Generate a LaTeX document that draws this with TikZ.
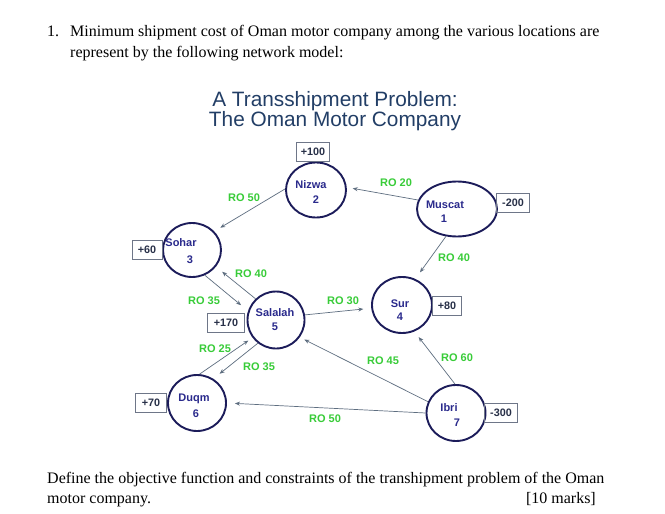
\documentclass[tikz,border=0pt]{standalone}
\usepackage{fontspec}
\setmainfont{Liberation Serif}
\newfontfamily\arialfont{Liberation Sans}
\usetikzlibrary{shapes.geometric,arrows.meta}
\definecolor{navy}{HTML}{1C1C5A}
\definecolor{nodetext}{HTML}{2A2A8C}
\definecolor{edgegreen}{HTML}{38CC38}
\definecolor{edgegray}{HTML}{5E6E80}
\definecolor{boxgray}{HTML}{6E7688}
\definecolor{boxtext}{HTML}{283048}
\definecolor{titleblue}{HTML}{223E66}
\tikzset{
  city/.style={ellipse,draw=navy,line width=1.9pt,inner sep=0pt},
  cname/.style={font=\arialfont\fontsize{11}{12}\selectfont\bfseries,text=nodetext,inner sep=0pt},
  supply/.style={draw=boxgray,line width=0.8pt,font=\arialfont\fontsize{10.8}{12}\selectfont\bfseries,text=boxtext,minimum width=33pt,minimum height=19pt,inner sep=1pt},
  cost/.style={font=\arialfont\fontsize{11}{12}\selectfont\bfseries,text=edgegreen,inner sep=0pt},
  flow/.style={draw=edgegray,line width=0.7pt,-{Stealth[length=5pt,width=4pt]}},
  body/.style={font=\fontsize{16}{19}\selectfont,inner sep=0pt,anchor=base west}
}
\begin{document}
\begin{tikzpicture}[x=1pt,y=-1pt]
\useasboundingbox[fill=white] (0,0) rectangle (665,514);
% question text
\node[body] (q1n) at (47,36.5) {1.};
\node[body] (q1a) at (70,36.5) {Minimum shipment cost of Oman motor company among the various locations are};
\node[body] (q1b) at (70,57) {represent by the following network model:};
\node[body] (q2a) at (47,483) {Define the objective function and constraints of the transhipment problem of the Oman};
\node[body] (q2b) at (47,503) {motor company.};
\node[body,anchor=base east] (q2c) at (596,503) {[10 marks]};
% title
\node[font=\arialfont\fontsize{20.8}{17}\selectfont,text=titleblue,align=center,inner sep=0pt] (title) at (335,111) {A Transshipment Problem:\\The Oman Motor Company};
% cities
\node[city,minimum width=80pt,minimum height=55pt] (muscat) at (457,209) {};
\node[city,minimum width=60pt,minimum height=55pt] (nizwa) at (316,190) {};
\node[city,minimum width=58pt,minimum height=54pt] (sohar) at (192,250) {};
\node[city,minimum width=60pt,minimum height=56pt] (sur) at (402,305) {};
\node[city,minimum width=57pt,minimum height=57pt] (salalah) at (276,320) {};
\node[city,minimum width=58pt,minimum height=56pt] (duqm) at (197,403) {};
\node[city,minimum width=59pt,minimum height=56pt] (ibri) at (456,413) {};
% city labels
\node[cname] (lmus) at (445,205) {Muscat};
\node[cname] (nmus) at (444,219) {1};
\node[cname] (lniz) at (311,185) {Nizwa};
\node[cname] (nniz) at (316,200) {2};
\node[cname] (lsoh) at (181,243) {Sohar};
\node[cname] (nsoh) at (190,260) {3};
\node[cname] (lsur) at (400,304) {Sur};
\node[cname] (nsur) at (400,317) {4};
\node[cname] (lsal) at (275,313) {Salalah};
\node[cname] (nsal) at (275,327) {5};
\node[cname] (lduq) at (194,399) {Duqm};
\node[cname] (nduq) at (196,414) {6};
\node[cname] (libr) at (449,408) {Ibri};
\node[cname] (nibr) at (457,423) {7};
% supplies
\node[supply] (smus) at (513,203) {-200};
\node[supply] (sniz) at (313,152) {+100};
\node[supply,minimum width=30pt] (ssoh) at (147,250) {+60};
\node[supply,minimum width=29pt] (ssur) at (447,306) {+80};
\node[supply,minimum width=37pt] (ssal) at (226,323) {+170};
\node[supply,minimum width=31pt] (sduq) at (151,403) {+70};
\node[supply] (sibr) at (501,413) {-300};
% routes
\draw[flow,shorten >=6pt] (muscat.167) -- (nizwa.5);
\draw[flow,shorten >=7pt] (nizwa.178) -- (sohar.40);
\draw[flow,shorten >=8pt] (muscat.-112) -- (sur.63);
\draw[flow,shorten >=9pt] (sohar.-63) -- (salalah.162);
\draw[flow,shorten >=8pt] (salalah.134) -- (sohar.-35);
\draw[flow,shorten >=8pt] (salalah.10) -- (sur.186);
\draw[flow,shorten >=8pt] (salalah.-128) -- (duqm.56);
\draw[flow,shorten >=5pt] (duqm.85) -- (salalah.-143);
\draw[flow,shorten >=5pt] (ibri.158) -- (salalah.-36);
\draw[flow,shorten >=7pt] (ibri.92) -- (sur.-65);
\draw[flow,shorten >=8pt] (ibri.180) -- (duqm.0);
% costs
\node[cost] (c20) at (396,183) {RO 20};
\node[cost] (c50a) at (244,198) {RO 50};
\node[cost] (c40a) at (454,258) {RO 40};
\node[cost] (c40b) at (251,274) {RO 40};
\node[cost] (c35a) at (204,301) {RO 35};
\node[cost] (c30) at (343,301) {RO 30};
\node[cost] (c25) at (215,349) {RO 25};
\node[cost] (c35b) at (259,367) {RO 35};
\node[cost] (c45) at (383,361) {RO 45};
\node[cost] (c60) at (457,358) {RO 60};
\node[cost] (c50b) at (325,419) {RO 50};
\end{tikzpicture}
\end{document}
